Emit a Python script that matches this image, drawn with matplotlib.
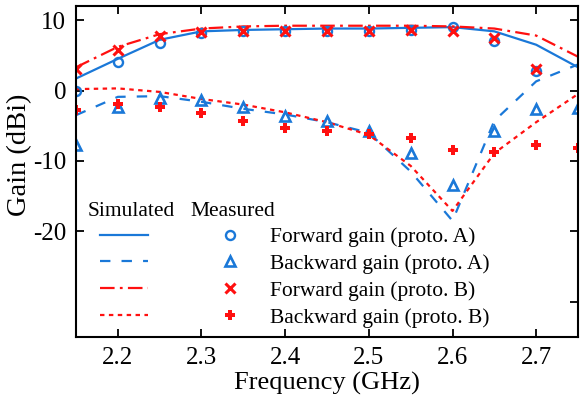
import matplotlib
matplotlib.use("Agg")
import matplotlib.pyplot as plt

plt.rcParams['font.family'] = ['Liberation Serif', 'DejaVu Serif']
plt.rcParams['axes.unicode_minus'] = False
plt.rcParams['lines.scale_dashes'] = False

# ---- data ----
freq = [2.15, 2.20, 2.25, 2.30, 2.35, 2.40, 2.45, 2.50, 2.55, 2.60, 2.65, 2.70, 2.75]
sim_fwd_A = [1.7, 4.5, 7.2, 8.4, 8.6, 8.7, 8.8, 8.8, 8.9, 9.0, 8.4, 6.5, 3.3]
sim_bwd_A = [-3.5, -0.9, -0.8, -1.6, -2.6, -3.4, -4.5, -6.0, -11.5, -18.5, -4.3, 1.3, 3.7]
sim_fwd_B = [3.3, 6.2, 8.0, 8.8, 9.1, 9.2, 9.2, 9.2, 9.2, 9.1, 8.8, 7.8, 4.8]
sim_bwd_B = [0.2, 0.3, -0.2, -1.2, -2.0, -3.1, -4.5, -6.3, -10.7, -17.1, -8.9, -4.5, -0.5]

freq_meas_fwd = [2.15, 2.20, 2.25, 2.30, 2.35, 2.40, 2.45, 2.50, 2.55, 2.60, 2.65, 2.70]
meas_fwd_A = [0.0, 4.0, 6.7, 8.1, 8.4, 8.5, 8.5, 8.5, 8.6, 9.0, 7.1, 2.8]
meas_fwd_B = [3.1, 5.8, 7.7, 8.3, 8.4, 8.4, 8.4, 8.4, 8.6, 8.4, 7.4, 3.1]
freq_meas_bwd = [2.15, 2.20, 2.25, 2.30, 2.35, 2.40, 2.45, 2.50, 2.55, 2.60, 2.65, 2.70, 2.75]
meas_bwd_A = [-7.7, -2.4, -1.0, -1.3, -2.4, -3.6, -4.4, -5.7, -8.9, -13.4, -5.8, -2.6, -2.5]
meas_bwd_B = [-2.7, -1.9, -2.4, -3.2, -4.4, -5.3, -5.8, -6.2, -6.7, -8.4, -8.8, -7.8, -8.1]

xticks = [2.2, 2.3, 2.4, 2.5, 2.6, 2.7]
yticks = [-20, -10, 0, 10]
labels_meas = ['Forward gain (proto. A)', 'Backward gain (proto. A)',
               'Forward gain (proto. B)', 'Backward gain (proto. B)']

BLUE = '#1a78d8'
RED = '#ff1010'

W, H = 580, 403
fig = plt.figure(figsize=(W / 100, H / 100), dpi=100)
ax = fig.add_axes([76 / W, (H - 337) / H, (578 - 76) / W, (337 - 6) / H])

lw = 1.6
dash_A = (0, (7.5, 8.0))
dashdot_B = (0, (10.5, 3.8, 2.0, 3.8))
dot_B = (0, (3.2, 3.2))

l1, = ax.plot(freq, sim_fwd_A, color=BLUE, lw=lw, ls='-')
l2, = ax.plot(freq, sim_bwd_A, color=BLUE, lw=lw, ls=dash_A)
l3, = ax.plot(freq, sim_fwd_B, color=RED, lw=lw, ls=dashdot_B)
l4, = ax.plot(freq, sim_bwd_B, color=RED, lw=lw, ls=dot_B)

m1, = ax.plot(freq_meas_fwd, meas_fwd_A, ls='none', marker='o', ms=6.5, mfc='none',
              mec=BLUE, mew=1.7)
m2, = ax.plot(freq_meas_bwd, meas_bwd_A, ls='none', marker='^', ms=7.5, mfc='none',
              mec=BLUE, mew=1.9)
m3, = ax.plot(freq_meas_fwd, meas_fwd_B, ls='none', marker='x', ms=7, color=RED, mew=2.2)
m4, = ax.plot(freq_meas_bwd, meas_bwd_B, ls='none', marker='P', ms=7.5, color=RED, mew=0)

ax.set_xlim(2.15, 2.75)
ax.set_ylim(-35, 12)
ax.set_xticks(xticks)
ax.set_xticklabels([f'{v:.1f}' for v in xticks])
ax.set_yticks(yticks)
ax.set_yticklabels([str(v) for v in yticks])
ax.set_yticks([-30], minor=True)
ax.tick_params(which='major', direction='in', length=6, width=1.3, labelsize=18,
               top=True, right=True, pad=7)
ax.tick_params(axis='y', which='minor', direction='in', length=6, width=1.3,
               left=False, right=True)
ax.tick_params(axis='x', which='minor', bottom=False, top=False)
for s in ax.spines.values():
    s.set_linewidth(1.5)

ax.set_xlabel('Frequency (GHz)', fontsize=19, labelpad=2)
ax.set_ylabel('Gain (dBi)', fontsize=20.5)
ax.yaxis.set_label_coords(-0.088, 0.55)

# legend: simulated lines in column 1, measured markers + labels in column 2
handles = [l1, l2, l3, l4, m1, m2, m3, m4]
labels = [' '] * 4 + labels_meas
leg = ax.legend(handles, labels, ncol=2, loc='upper left',
                bbox_to_anchor=((100 - 76) / 502, (337 - 227) / 331),
                frameon=False, fontsize=15.5, handlelength=2.25, handletextpad=0.75,
                columnspacing=1.65, labelspacing=0.32, borderpad=0, borderaxespad=0,
                numpoints=1)
ax.text((88 - 76) / 502, (337 - 211) / 331, 'Simulated', transform=ax.transAxes,
        fontsize=15.5, va='center', ha='left')
ax.text((190 - 76) / 502, (337 - 211) / 331, 'Measured', transform=ax.transAxes,
        fontsize=15.5, va='center', ha='left')

fig.savefig('out.png', dpi=100)
